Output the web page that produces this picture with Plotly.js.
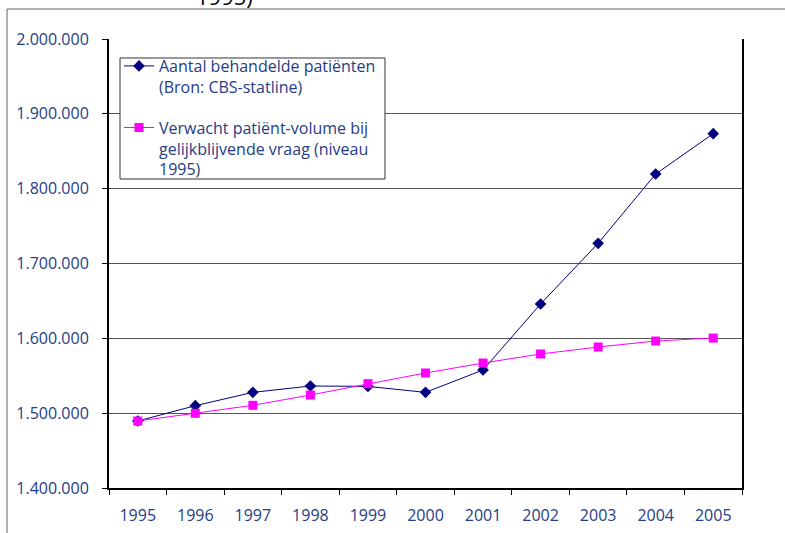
<!DOCTYPE html>
<html>
<head>
<meta charset="utf-8">
<script src="https://cdn.plot.ly/plotly-3.0.1.min.js"></script>
<style>html,body{margin:0;padding:0;background:#fff;}#chart{width:785px;height:533px;}</style>
</head>
<body>
<div id="chart"></div>
<script>
const years = ["1995","1996","1997","1998","1999","2000","2001","2002","2003","2004","2005"];
const behandeld = [1489500,1510000,1527800,1536300,1535800,1527800,1557700,1645900,1727000,1819600,1873500];
const verwacht = [1489500,1499800,1510500,1524300,1539400,1553700,1567000,1579100,1588400,1596400,1600400];
const nameBehandeld = "Aantal behandelde patiënten<br>(Bron: CBS-statline)";
const nameVerwacht = "Verwacht patiënt-volume bij<br>gelijkblijvende vraag (niveau<br>1995)";
const titleTail = "1995)";

const textColor = "#253C87";
const font = "Open Sans, sans-serif";

const traces = [
  {x: years, y: behandeld, name: nameBehandeld, type: "scatter", mode: "lines+markers",
   line: {color: "#000080", width: 1}, marker: {symbol: "diamond", size: 9, color: "#000080"},
   legendgroup: "a"},
  {x: years, y: verwacht, name: nameVerwacht, type: "scatter", mode: "lines+markers",
   line: {color: "#FF00FF", width: 1}, marker: {symbol: "square", size: 9, color: "#FF00FF"},
   legendgroup: "b"}
];

const layout = {
  width: 785, height: 533,
  margin: {l: 109, r: 43, t: 39, b: 45},
  paper_bgcolor: "#fff", plot_bgcolor: "#fff",
  separators: ",.",
  font: {family: font, size: 16, color: textColor},
  showlegend: true,
  legend: {x: 0.0158, y: 0.9777, xanchor: "left", yanchor: "top",
           bgcolor: "rgba(0,0,0,0)", borderwidth: 0,
           font: {family: font, size: 16, color: textColor},
           valign: "top", traceorder: "grouped", tracegroupgap: 17},
  xaxis: {type: "category", tickson: "boundaries", ticks: "outside", ticklen: 5, tickcolor: "#000",
          showline: true, linecolor: "#000", linewidth: 2, showgrid: false, zeroline: false,
          ticklabelstandoff: 12, tickfont: {family: font, size: 16, color: textColor},
          range: [-0.5, 10.5], fixedrange: true},
  yaxis: {range: [1400000, 2000000], dtick: 100000, tickformat: ",d", ticks: "outside", ticklen: 5,
          tickcolor: "#000", showline: true, linecolor: "#000", linewidth: 2, mirror: true,
          showgrid: true, gridcolor: "#555", gridwidth: 1, zeroline: false,
          ticklabelstandoff: 10, tickfont: {family: font, size: 16, color: textColor}},
  shapes: [
    {type: "rect", xref: "paper", yref: "paper", x0: -0.1611, x1: 1.3, y0: -0.3, y1: 1.0668,
     line: {color: "#666", width: 1}, fillcolor: "rgba(0,0,0,0)", layer: "below"},
    {type: "rect", xref: "paper", yref: "paper", x0: 0.0174, x1: 0.436, y0: 0.6882, y1: 0.9577,
     line: {color: "#333", width: 1}, fillcolor: "#fff", layer: "above"}
  ],
  annotations: [
    {text: titleTail, xref: "paper", yref: "paper", x: 0.183, y: 1.058, xanchor: "center", yanchor: "bottom",
     showarrow: false, font: {family: font, size: 22, color: "#000"}}
  ]
};

Plotly.newPlot("chart", traces, layout, {displayModeBar: false, staticPlot: true});
</script>
</body>
</html>
